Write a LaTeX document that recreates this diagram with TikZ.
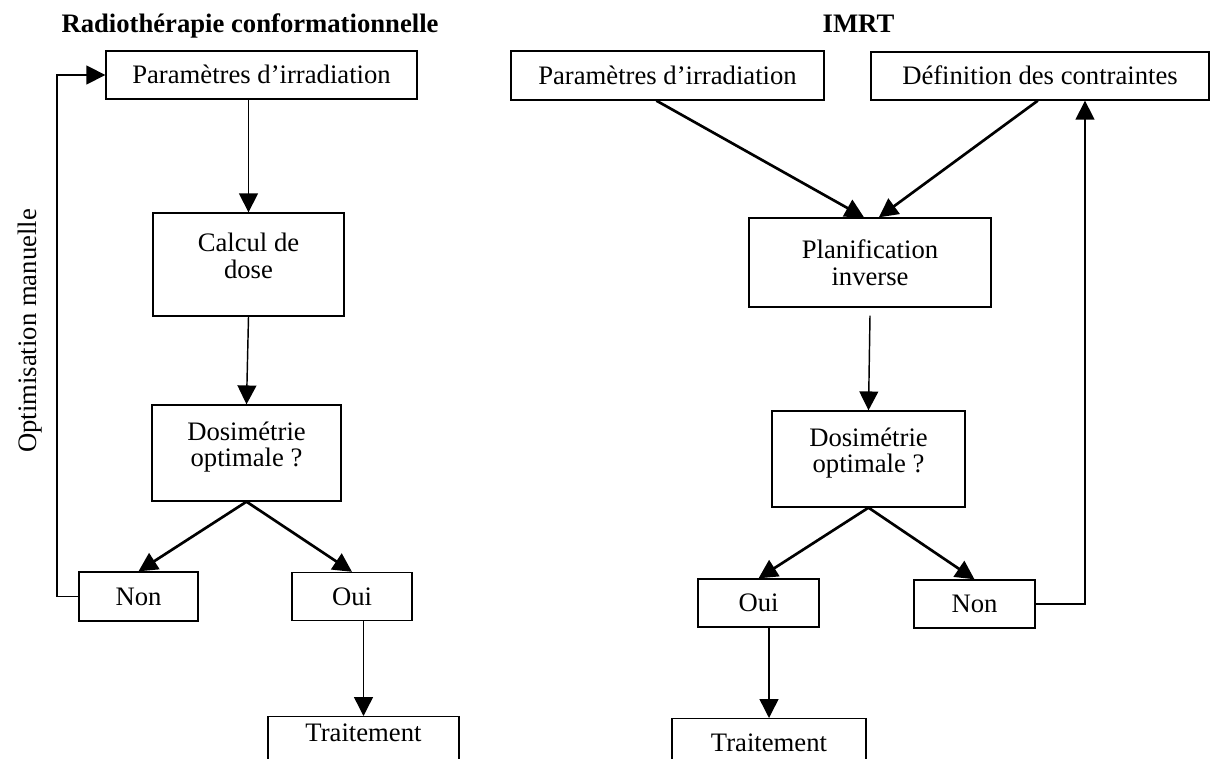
\documentclass[tikz,border=0pt]{standalone}
\usepackage{fontspec}
\setmainfont{Liberation Serif}
\usetikzlibrary{arrows.meta}

\tikzset{
    box/.style 2 args={draw, line width=0.6pt, inner sep=2pt,
        minimum width=#1*0.45pt, minimum height=#2*0.45pt,
        font=\fontsize{12pt}{12pt}\selectfont},
    single/.style={text height=7.9pt, text depth=0pt},
    double/.style={align=center, text depth=8pt},
    title/.style={font=\fontsize{12pt}{12pt}\selectfont\bfseries, anchor=base},
    thin arrow/.style={line width=0.65pt, -{Triangle[length=8.5pt, width=8.5pt]}},
    thick arrow/.style={line width=1.2pt, -{Triangle[length=8.5pt, width=8.5pt]}}
}

\begin{document}
\begin{tikzpicture}[x=0.45pt, y=-0.45pt]
    \useasboundingbox (0,0) rectangle (1211,759);
    \clip (0,0) rectangle (1211,759);

    % conformationnelle
    \node [title] (titleL) at (250,33) {Radiothérapie conformationnelle};
    \node [box={311}{48}, single] (paramL) at (261.5,75) {Paramètres d’irradiation};
    \node [box={191}{103}, double] (calcL) at (248.5,264.5) {Calcul de\\dose};
    \node [box={189}{96}, double] (dosL) at (246.5,453) {Dosimétrie\\optimale ?};
    \node [box={119}{49}, single] (nonL) at (138.5,596.5) {Non};
    \node [box={120}{48}, single] (ouiL) at (352,596.5) {Oui};
    \node [box={191}{0}, anchor=north, inner ysep=3.4pt, text height=7.9pt, text depth=30pt] (traitL) at (363.5,716) {Traitement};
    \node [rotate=90, anchor=base, font=\fontsize{12pt}{12pt}\selectfont] (optL) at (36,331) {Optimisation manuelle};

    \draw [thin arrow] (paramL.south -| calcL.north) -- (calcL.north);
    \draw [thin arrow] (calcL.south) -- (dosL.north);
    \foreach \n in {nonL, ouiL}
        \draw [thick arrow] (dosL.south) -- (\n.north);
    \draw [thin arrow] (ouiL.south -| traitL.north) -- (traitL.north);
    \coordinate (loopL) at (57,75);
    \draw [thin arrow] (nonL.west) -| (loopL) -- (paramL.west);

    % IMRT
    \node [title] (titleR) at (858.5,33) {IMRT};
    \node [box={313}{49}, single] (paramR) at (667.5,75.5) {Paramètres d’irradiation};
    \node [box={338}{48}, single] (defR) at (1040,76) {Définition des contraintes};
    \node [box={242}{89}, align=center] (planR) at (870,262.5) {Planification\\inverse};
    \node [box={193}{96}, double] (dosR) at (868.5,459) {Dosimétrie\\optimale ?};
    \node [box={121}{48}, single] (ouiR) at (758.5,603) {Oui};
    \node [box={121}{48}, single] (nonR) at (974.5,604) {Non};
    \node [box={194}{0}, anchor=north, inner ysep=6.9pt, text height=7.9pt, text depth=30pt] (traitR) at (769,718) {Traitement};

    \draw [thick arrow] ([xshift=-5pt]paramR.south) -- ([xshift=-2.7pt]planR.north);
    \draw [thick arrow] ([xshift=-1pt]defR.south) -- ([xshift=4pt]planR.north);
    \draw [thin arrow] ([yshift=-3.6pt]planR.south) -- (dosR.north);
    \foreach \n in {ouiR, nonR}
        \draw [thick arrow] (dosR.south) -- (\n.north);
    \draw [thin arrow] (ouiR.south -| traitR.north) -- (traitR.north);
    \coordinate (loopR) at (1085,604);
    \draw [thin arrow] (nonR.east) -- (loopR) -- (loopR |- defR.south);
\end{tikzpicture}
\end{document}
